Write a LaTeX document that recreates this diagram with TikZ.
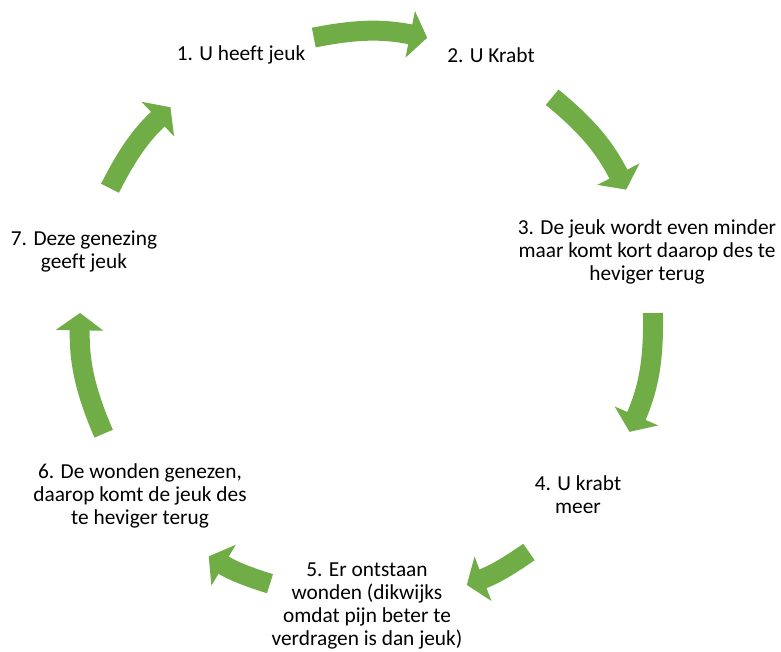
\documentclass[tikz,border=0pt]{standalone}
\usepackage{fontspec}
\setmainfont{Carlito}[Ligatures=NoCommon]
\usetikzlibrary{arrows.meta}
\definecolor{leafgreen}{HTML}{70AD47}

\begin{document}
\begin{tikzpicture}[x=0.75pt, y=0.75pt,
    every node/.style={align=center, inner sep=0pt, font=\fontsize{16}{17.25}\selectfont},
    cyclearrow/.style={draw=leafgreen, line width=15pt, -{Triangle[length=13pt, width=35pt]}}]
            \useasboundingbox (-370,-332) rectangle (411,319);

            \node (itch) at (-129,264) {1. U heeft jeuk};
            \node (scratch) at (121,264) {2. U Krabt};
            \node (relief) at (277,67) {3. De jeuk wordt even minder\\maar komt kort daarop des te\\heviger terug};
            \node (more) at (208,-176) {4. U krabt\\meer};
            \node (wounds) at (-3,-287) {5. Er ontstaan\\wonden (dikwijks\\omdat pijn beter te\\verdragen is dan jeuk)};
            \node (heal) at (-230,-177) {6. De wonden genezen,\\daarop komt de jeuk des\\te heviger terug};
            \node (newitch) at (-286,68) {7. Deze genezing\\geeft jeuk};

            \coordinate (a1s) at (101.3:287); \coordinate (a1e) at (78.5:287);
            \coordinate (a2s) at (50.6:287); \coordinate (a2e) at (26.8:287);
            \coordinate (a3s) at (1.2:283); \coordinate (a3e) at (-23.5:283);
            \coordinate (a4s) at (-55.7:282); \coordinate (a4e) at (-70:283);
            \coordinate (a5s) at (-110.7:283); \coordinate (a5e) at (-124.2:287);
            \coordinate (a6s) at (-156.7:290); \coordinate (a6e) at (-181.2:290);
            \coordinate (a7s) at (153.3:291); \coordinate (a7e) at (133.3:291);

            \draw[cyclearrow] (a1s) to[bend left=11.4] (a1e);
            \draw[cyclearrow] (a2s) to[bend left=11.9] (a2e);
            \draw[cyclearrow] (a3s) to[bend left=12.35] (a3e);
            \draw[cyclearrow] (a4s) to[bend left=7.15] (a4e);
            \draw[cyclearrow] (a5s) to[bend left=6.75] (a5e);
            \draw[cyclearrow] (a6s) to[bend left=12.25] (a6e);
            \draw[cyclearrow] (a7s) to[bend left=10] (a7e);
\end{tikzpicture}
\end{document}
